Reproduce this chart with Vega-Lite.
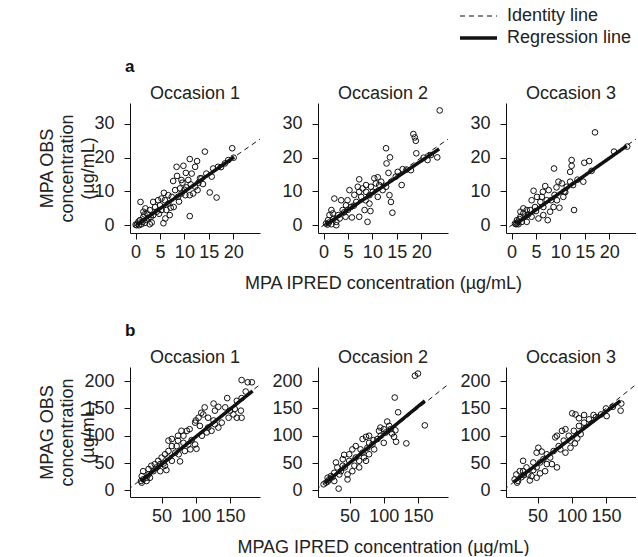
{
"$schema":"https://vega.github.io/schema/vega-lite/v6.json",
"padding":{"left":38,"top":8,"right":0,"bottom":0},
"background":"white",
"config":{
 "font":"Liberation Sans",
 "view":{"stroke":null},
 "axis":{"grid":false,"domainColor":"#111","tickColor":"#111","labelColor":"#222","titleColor":"#222","labelFont":"Liberation Sans","titleFont":"Liberation Sans","labelFontSize":18,"titleFontSize":18,"titleFontWeight":"normal","tickSize":6,"labelFlush":false,"labelOverlap":false,"labelAngle":0,"titleLineHeight":20.5},
 "axisX":{"labelPadding":4},
 "axisY":{"labelPadding":10},
 "title":{"fontSize":18,"fontWeight":"normal","color":"#222","offset":2,"dy":2,"font":"Liberation Sans"},
 "legend":{"orient":"none","legendX":328,"legendY":-95,"labelFontSize":18,"labelFont":"Liberation Sans","labelColor":"#222","symbolType":"stroke","symbolSize":1369,"symbolStrokeColor":"#111","labelOffset":8,"clipHeight":16,"rowPadding":4}
},
"datasets":{
 "pts":[
{"p":"a1","x":1.0,"y":6.9},{"p":"a1","x":14.2,"y":21.8},{"p":"a1","x":19.8,"y":22.8},{"p":"a1","x":11.1,"y":19.6},{"p":"a1","x":12.6,"y":19.0},{"p":"a1","x":8.4,"y":17.3},{"p":"a1","x":9.8,"y":17.6},{"p":"a1","x":10.3,"y":15.5},{"p":"a1","x":11.5,"y":15.3},{"p":"a1","x":12.2,"y":17.3},{"p":"a1","x":7.7,"y":13.1},{"p":"a1","x":8.5,"y":14.6},{"p":"a1","x":9.4,"y":13.4},{"p":"a1","x":10.8,"y":13.4},{"p":"a1","x":13.2,"y":13.9},{"p":"a1","x":15.6,"y":14.4},{"p":"a1","x":15.2,"y":9.7},{"p":"a1","x":16.6,"y":8.2},{"p":"a1","x":11.1,"y":2.7},{"p":"a1","x":5.8,"y":9.6},{"p":"a1","x":5.7,"y":0.6},{"p":"a1","x":6.1,"y":2.0},{"p":"a1","x":7.0,"y":3.0},{"p":"a1","x":7.8,"y":5.4},{"p":"a1","x":7.2,"y":5.2},{"p":"a1","x":6.7,"y":6.4},{"p":"a1","x":3.6,"y":6.9},{"p":"a1","x":4.6,"y":7.4},{"p":"a1","x":5.3,"y":7.9},{"p":"a1","x":7.4,"y":8.4},{"p":"a1","x":8.7,"y":8.4},{"p":"a1","x":9.4,"y":9.4},{"p":"a1","x":10.2,"y":8.9},{"p":"a1","x":11.8,"y":9.4},{"p":"a1","x":11.1,"y":8.9},{"p":"a1","x":12.2,"y":11.4},{"p":"a1","x":12.7,"y":10.4},{"p":"a1","x":10.4,"y":11.2},{"p":"a1","x":11.3,"y":12.1},{"p":"a1","x":9.1,"y":10.9},{"p":"a1","x":8.1,"y":10.4},{"p":"a1","x":6.7,"y":8.9},{"p":"a1","x":6.0,"y":7.4},{"p":"a1","x":5.0,"y":5.9},{"p":"a1","x":4.0,"y":5.4},{"p":"a1","x":2.9,"y":4.5},{"p":"a1","x":2.3,"y":3.5},{"p":"a1","x":1.6,"y":2.5},{"p":"a1","x":0.9,"y":1.5},{"p":"a1","x":0.4,"y":0.5},{"p":"a1","x":1.2,"y":0.3},{"p":"a1","x":1.9,"y":0.7},{"p":"a1","x":2.9,"y":0.3},{"p":"a1","x":2.6,"y":2.0},{"p":"a1","x":3.6,"y":3.0},{"p":"a1","x":4.3,"y":4.0},{"p":"a1","x":1.6,"y":4.0},{"p":"a1","x":2.0,"y":5.0},{"p":"a1","x":5.3,"y":4.5},{"p":"a1","x":6.3,"y":4.5},{"p":"a1","x":19.0,"y":19.3},{"p":"a1","x":18.3,"y":18.3},{"p":"a1","x":16.9,"y":17.3},{"p":"a1","x":15.9,"y":16.8},{"p":"a1","x":14.5,"y":15.3},{"p":"a1","x":13.5,"y":13.9},{"p":"a1","x":0.7,"y":0.0},{"p":"a1","x":0.2,"y":0.0},{"p":"a1","x":0.0,"y":0.2},{"p":"a1","x":1.4,"y":1.0},{"p":"a1","x":2.2,"y":1.6},{"p":"a1","x":3.1,"y":2.4},{"p":"a1","x":4.8,"y":3.4},{"p":"a1","x":8.9,"y":7.0},{"p":"a1","x":12.9,"y":12.6},{"p":"a1","x":17.5,"y":17.2},{"p":"a1","x":20.1,"y":20.0},{"p":"a1","x":3.3,"y":0.8},{"p":"a1","x":0.6,"y":1.1},{"p":"a1","x":1.8,"y":3.2},{"p":"a1","x":10.0,"y":10.5},{"p":"a1","x":13.8,"y":12.2},{"p":"a1","x":9.6,"y":12.6},
{"p":"a2","x":23.8,"y":34.0},{"p":"a2","x":18.4,"y":27.0},{"p":"a2","x":18.7,"y":26.0},{"p":"a2","x":18.9,"y":25.0},{"p":"a2","x":19.0,"y":21.3},{"p":"a2","x":12.8,"y":22.8},{"p":"a2","x":12.9,"y":18.3},{"p":"a2","x":13.6,"y":20.1},{"p":"a2","x":13.3,"y":15.5},{"p":"a2","x":16.0,"y":11.9},{"p":"a2","x":15.2,"y":15.8},{"p":"a2","x":16.2,"y":16.6},{"p":"a2","x":17.9,"y":16.3},{"p":"a2","x":21.3,"y":19.3},{"p":"a2","x":23.3,"y":20.1},{"p":"a2","x":22.0,"y":20.8},{"p":"a2","x":14.1,"y":3.7},{"p":"a2","x":13.5,"y":8.9},{"p":"a2","x":13.8,"y":6.9},{"p":"a2","x":9.0,"y":1.0},{"p":"a2","x":9.6,"y":4.2},{"p":"a2","x":7.3,"y":13.6},{"p":"a2","x":5.3,"y":10.4},{"p":"a2","x":2.2,"y":7.9},{"p":"a2","x":3.6,"y":7.4},{"p":"a2","x":4.9,"y":7.4},{"p":"a2","x":7.0,"y":11.4},{"p":"a2","x":8.0,"y":10.9},{"p":"a2","x":8.7,"y":11.9},{"p":"a2","x":10.4,"y":13.9},{"p":"a2","x":11.1,"y":14.2},{"p":"a2","x":11.8,"y":12.9},{"p":"a2","x":10.7,"y":12.4},{"p":"a2","x":9.7,"y":11.4},{"p":"a2","x":9.4,"y":8.9},{"p":"a2","x":8.6,"y":7.4},{"p":"a2","x":11.1,"y":8.4},{"p":"a2","x":12.1,"y":10.4},{"p":"a2","x":12.8,"y":11.4},{"p":"a2","x":7.7,"y":8.4},{"p":"a2","x":6.7,"y":6.9},{"p":"a2","x":5.6,"y":5.4},{"p":"a2","x":4.6,"y":5.9},{"p":"a2","x":3.9,"y":4.5},{"p":"a2","x":7.3,"y":2.5},{"p":"a2","x":5.8,"y":2.3},{"p":"a2","x":4.5,"y":2.5},{"p":"a2","x":3.3,"y":2.0},{"p":"a2","x":2.6,"y":1.0},{"p":"a2","x":1.9,"y":3.5},{"p":"a2","x":1.6,"y":4.5},{"p":"a2","x":1.2,"y":3.0},{"p":"a2","x":0.9,"y":1.5},{"p":"a2","x":0.5,"y":0.5},{"p":"a2","x":1.6,"y":0.3},{"p":"a2","x":2.6,"y":0.0},{"p":"a2","x":8.4,"y":4.5},{"p":"a2","x":9.4,"y":6.4},{"p":"a2","x":6.3,"y":9.0},{"p":"a2","x":7.3,"y":9.9},{"p":"a2","x":8.7,"y":9.9},{"p":"a2","x":10.1,"y":9.9},{"p":"a2","x":11.4,"y":11.9},{"p":"a2","x":14.8,"y":14.4},{"p":"a2","x":0.8,"y":0.2},{"p":"a2","x":1.1,"y":0.8},{"p":"a2","x":2.0,"y":1.8},{"p":"a2","x":3.0,"y":3.0},{"p":"a2","x":4.2,"y":3.8},{"p":"a2","x":5.0,"y":4.6},{"p":"a2","x":6.2,"y":5.8},{"p":"a2","x":20.5,"y":20.0},{"p":"a2","x":17.0,"y":16.5},
{"p":"a3","x":17.1,"y":27.5},{"p":"a3","x":23.7,"y":23.3},{"p":"a3","x":21.0,"y":21.8},{"p":"a3","x":15.9,"y":19.0},{"p":"a3","x":14.9,"y":18.5},{"p":"a3","x":12.3,"y":19.3},{"p":"a3","x":12.3,"y":17.6},{"p":"a3","x":12.0,"y":15.8},{"p":"a3","x":8.7,"y":16.8},{"p":"a3","x":16.4,"y":16.1},{"p":"a3","x":14.7,"y":12.9},{"p":"a3","x":12.8,"y":4.5},{"p":"a3","x":4.5,"y":10.2},{"p":"a3","x":6.9,"y":11.6},{"p":"a3","x":6.4,"y":9.9},{"p":"a3","x":7.6,"y":10.4},{"p":"a3","x":9.6,"y":12.9},{"p":"a3","x":10.3,"y":12.4},{"p":"a3","x":9.2,"y":11.2},{"p":"a3","x":10.6,"y":8.4},{"p":"a3","x":9.8,"y":5.2},{"p":"a3","x":8.1,"y":7.4},{"p":"a3","x":7.4,"y":1.5},{"p":"a3","x":8.6,"y":5.4},{"p":"a3","x":6.5,"y":5.4},{"p":"a3","x":5.5,"y":2.0},{"p":"a3","x":4.8,"y":5.4},{"p":"a3","x":3.8,"y":4.5},{"p":"a3","x":4.1,"y":7.4},{"p":"a3","x":5.2,"y":8.4},{"p":"a3","x":5.9,"y":6.9},{"p":"a3","x":3.1,"y":4.5},{"p":"a3","x":2.4,"y":3.5},{"p":"a3","x":1.8,"y":2.5},{"p":"a3","x":1.1,"y":1.5},{"p":"a3","x":0.7,"y":0.5},{"p":"a3","x":1.4,"y":0.3},{"p":"a3","x":2.1,"y":1.0},{"p":"a3","x":3.1,"y":1.0},{"p":"a3","x":4.1,"y":2.5},{"p":"a3","x":6.5,"y":3.0},{"p":"a3","x":7.9,"y":4.0},{"p":"a3","x":9.3,"y":7.4},{"p":"a3","x":11.3,"y":11.4},{"p":"a3","x":12.0,"y":12.9},{"p":"a3","x":12.6,"y":11.9},{"p":"a3","x":2.4,"y":5.0},{"p":"a3","x":1.8,"y":4.0},{"p":"a3","x":1.1,"y":0.5},{"p":"a3","x":0.9,"y":0.3},{"p":"a3","x":7.2,"y":7.4},{"p":"a3","x":6.2,"y":8.4},{"p":"a3","x":1.3,"y":1.0},{"p":"a3","x":1.6,"y":1.8},{"p":"a3","x":2.8,"y":2.6},{"p":"a3","x":3.4,"y":3.2},{"p":"a3","x":5.0,"y":4.2},{"p":"a3","x":10.8,"y":10.0},{"p":"a3","x":13.5,"y":13.5},{"p":"a3","x":11.0,"y":9.8},{"p":"a3","x":8.8,"y":9.0},
{"p":"b1","x":167,"y":202},{"p":"b1","x":176,"y":198},{"p":"b1","x":182,"y":198},{"p":"b1","x":173,"y":181},{"p":"b1","x":146,"y":169},{"p":"b1","x":167,"y":169},{"p":"b1","x":160,"y":164},{"p":"b1","x":126,"y":159},{"p":"b1","x":133,"y":153},{"p":"b1","x":143,"y":152},{"p":"b1","x":157,"y":149},{"p":"b1","x":166,"y":146},{"p":"b1","x":167,"y":133},{"p":"b1","x":160,"y":133},{"p":"b1","x":155,"y":139},{"p":"b1","x":111,"y":139},{"p":"b1","x":118,"y":133},{"p":"b1","x":104,"y":133},{"p":"b1","x":99,"y":124},{"p":"b1","x":106,"y":118},{"p":"b1","x":118,"y":115},{"p":"b1","x":128,"y":121},{"p":"b1","x":126,"y":128},{"p":"b1","x":91,"y":112},{"p":"b1","x":87,"y":109},{"p":"b1","x":82,"y":100},{"p":"b1","x":101,"y":76},{"p":"b1","x":89,"y":84},{"p":"b1","x":94,"y":92},{"p":"b1","x":82,"y":87},{"p":"b1","x":74,"y":91},{"p":"b1","x":65,"y":94},{"p":"b1","x":72,"y":81},{"p":"b1","x":65,"y":81},{"p":"b1","x":70,"y":69},{"p":"b1","x":77,"y":53},{"p":"b1","x":60,"y":72},{"p":"b1","x":55,"y":66},{"p":"b1","x":50,"y":60},{"p":"b1","x":53,"y":49},{"p":"b1","x":57,"y":37},{"p":"b1","x":45,"y":54},{"p":"b1","x":40,"y":48},{"p":"b1","x":35,"y":45},{"p":"b1","x":31,"y":39},{"p":"b1","x":23,"y":35},{"p":"b1","x":21,"y":26},{"p":"b1","x":20,"y":17},{"p":"b1","x":23,"y":20},{"p":"b1","x":28,"y":23},{"p":"b1","x":31,"y":29},{"p":"b1","x":38,"y":35},{"p":"b1","x":48,"y":35},{"p":"b1","x":55,"y":45},{"p":"b1","x":65,"y":54},{"p":"b1","x":75,"y":66},{"p":"b1","x":84,"y":72},{"p":"b1","x":92,"y":75},{"p":"b1","x":99,"y":84},{"p":"b1","x":109,"y":100},{"p":"b1","x":116,"y":106},{"p":"b1","x":123,"y":109},{"p":"b1","x":133,"y":115},{"p":"b1","x":138,"y":124},{"p":"b1","x":148,"y":133},{"p":"b1","x":150,"y":146},{"p":"b1","x":128,"y":146},{"p":"b1","x":113,"y":152},{"p":"b1","x":108,"y":142},{"p":"b1","x":100,"y":128},{"p":"b1","x":79,"y":109},{"p":"b1","x":74,"y":100},{"p":"b1","x":60,"y":91},{"p":"b1","x":60,"y":60},{"p":"b1","x":48,"y":48},{"p":"b1","x":43,"y":42},{"p":"b1","x":21,"y":14},{"p":"b1","x":28,"y":17},{"p":"b1","x":33,"y":23},
{"p":"b2","x":145.5,"y":210},{"p":"b2","x":150,"y":214},{"p":"b2","x":116,"y":170},{"p":"b2","x":121,"y":143},{"p":"b2","x":160,"y":119},{"p":"b2","x":133,"y":86},{"p":"b2","x":118,"y":89},{"p":"b2","x":115,"y":98},{"p":"b2","x":117,"y":110},{"p":"b2","x":108,"y":118},{"p":"b2","x":100,"y":112},{"p":"b2","x":95,"y":115},{"p":"b2","x":105,"y":126},{"p":"b2","x":93,"y":109},{"p":"b2","x":100,"y":87},{"p":"b2","x":78.5,"y":100},{"p":"b2","x":74,"y":98},{"p":"b2","x":69,"y":94},{"p":"b2","x":78.5,"y":87},{"p":"b2","x":86,"y":75},{"p":"b2","x":78.5,"y":66},{"p":"b2","x":74,"y":54},{"p":"b2","x":66,"y":75},{"p":"b2","x":59,"y":81},{"p":"b2","x":54,"y":75},{"p":"b2","x":49.4,"y":66},{"p":"b2","x":42,"y":65},{"p":"b2","x":40,"y":57},{"p":"b2","x":30,"y":51},{"p":"b2","x":32,"y":42},{"p":"b2","x":37.3,"y":35},{"p":"b2","x":47,"y":29},{"p":"b2","x":47,"y":20},{"p":"b2","x":64,"y":42},{"p":"b2","x":57,"y":45},{"p":"b2","x":34,"y":3},{"p":"b2","x":27.6,"y":17},{"p":"b2","x":20.3,"y":20},{"p":"b2","x":15.4,"y":14},{"p":"b2","x":17.9,"y":23},{"p":"b2","x":22.7,"y":26},{"p":"b2","x":27.6,"y":32},{"p":"b2","x":40,"y":45},{"p":"b2","x":49.4,"y":54},{"p":"b2","x":59,"y":60},{"p":"b2","x":69,"y":69},{"p":"b2","x":76,"y":78},{"p":"b2","x":83.4,"y":84},{"p":"b2","x":90.7,"y":94},{"p":"b2","x":95.5,"y":100},{"p":"b2","x":103,"y":106},{"p":"b2","x":110,"y":112},{"p":"b2","x":64,"y":54},{"p":"b2","x":71,"y":60},{"p":"b2","x":54,"y":35},{"p":"b2","x":43,"y":42},{"p":"b2","x":35,"y":29},{"p":"b2","x":25,"y":24},{"p":"b2","x":12,"y":11},{"p":"b2","x":18,"y":16},{"p":"b2","x":85,"y":92},{"p":"b2","x":112,"y":104},
{"p":"b3","x":172.4,"y":159},{"p":"b3","x":171.4,"y":146},{"p":"b3","x":150,"y":150},{"p":"b3","x":151,"y":136},{"p":"b3","x":131.8,"y":138},{"p":"b3","x":118,"y":138},{"p":"b3","x":105.5,"y":139},{"p":"b3","x":100.6,"y":141},{"p":"b3","x":110.5,"y":132},{"p":"b3","x":113,"y":103},{"p":"b3","x":104.6,"y":86},{"p":"b3","x":98,"y":91},{"p":"b3","x":90.7,"y":112},{"p":"b3","x":85.7,"y":109},{"p":"b3","x":78.3,"y":100},{"p":"b3","x":75.8,"y":97},{"p":"b3","x":78.3,"y":42},{"p":"b3","x":70.9,"y":48},{"p":"b3","x":58.5,"y":57},{"p":"b3","x":51.1,"y":78},{"p":"b3","x":48.6,"y":69},{"p":"b3","x":56,"y":71},{"p":"b3","x":38.7,"y":18},{"p":"b3","x":28.8,"y":54},{"p":"b3","x":33.8,"y":42},{"p":"b3","x":23.9,"y":35},{"p":"b3","x":18.9,"y":29},{"p":"b3","x":16.4,"y":20},{"p":"b3","x":21.4,"y":17},{"p":"b3","x":26.3,"y":24},{"p":"b3","x":36.2,"y":29},{"p":"b3","x":43.7,"y":37},{"p":"b3","x":48.6,"y":42},{"p":"b3","x":61,"y":35},{"p":"b3","x":63.5,"y":48},{"p":"b3","x":68.4,"y":60},{"p":"b3","x":73.4,"y":72},{"p":"b3","x":80.8,"y":81},{"p":"b3","x":88.2,"y":91},{"p":"b3","x":95.6,"y":100},{"p":"b3","x":103,"y":109},{"p":"b3","x":110.5,"y":118},{"p":"b3","x":118,"y":124},{"p":"b3","x":125.3,"y":130},{"p":"b3","x":135.2,"y":134},{"p":"b3","x":142.7,"y":139},{"p":"b3","x":90.7,"y":69},{"p":"b3","x":98.1,"y":78},{"p":"b3","x":83.3,"y":75},{"p":"b3","x":63.5,"y":66},{"p":"b3","x":43.7,"y":51},{"p":"b3","x":53.6,"y":51},{"p":"b3","x":28.8,"y":35},{"p":"b3","x":41.2,"y":26},{"p":"b3","x":53.6,"y":31},{"p":"b3","x":48.6,"y":23},{"p":"b3","x":20,"y":14},{"p":"b3","x":30,"y":28},{"p":"b3","x":160,"y":153},{"p":"b3","x":108,"y":95}
 ],
 "ln":[
{"p":"a1","l":"Identity line","x":-5,"y":-5},{"p":"a1","l":"Identity line","x":40,"y":40},{"p":"a1","l":"Regression line","x":0.3,"y":0.2},{"p":"a1","l":"Regression line","x":20.2,"y":20.2},
{"p":"a2","l":"Identity line","x":-5,"y":-5},{"p":"a2","l":"Identity line","x":40,"y":40},{"p":"a2","l":"Regression line","x":0.4,"y":0.1},{"p":"a2","l":"Regression line","x":23.7,"y":22.6},
{"p":"a3","l":"Identity line","x":-5,"y":-5},{"p":"a3","l":"Identity line","x":40,"y":40},{"p":"a3","l":"Regression line","x":1.0,"y":0.5},{"p":"a3","l":"Regression line","x":23.6,"y":23.5},
{"p":"b1","l":"Identity line","x":-20,"y":-20},{"p":"b1","l":"Identity line","x":240,"y":240},{"p":"b1","l":"Regression line","x":20,"y":17},{"p":"b1","l":"Regression line","x":183,"y":182},
{"p":"b2","l":"Identity line","x":-20,"y":-20},{"p":"b2","l":"Identity line","x":240,"y":240},{"p":"b2","l":"Regression line","x":14,"y":13},{"p":"b2","l":"Regression line","x":160,"y":164},
{"p":"b3","l":"Identity line","x":-20,"y":-20},{"p":"b3","l":"Identity line","x":240,"y":240},{"p":"b3","l":"Regression line","x":15,"y":15},{"p":"b3","l":"Regression line","x":171,"y":164}
 ]
},
"vconcat":[
 {"title":{"text":"a","anchor":"start","frame":"group","dx":-5,"dy":0,"fontWeight":"bold","fontSize":17,"offset":9,"color":"#111"},
  "bounds":"flush","spacing":58,
  "hconcat":[
   {"width":130,"height":130,"title":"Occasion 1",
    "encoding":{"x":{"field":"x","type":"quantitative","scale":{"domain":[-1.15,25.5],"nice":false,"zero":false},"axis":{"values":[0,5,10,15,20],"title":null}},
                "y":{"field":"y","type":"quantitative","scale":{"domain":[-2.3,36.2],"nice":false,"zero":false},"axis":{"values":[0,10,20,30],"title":["MPA OBS","concentration","(µg/mL)"],"titleX":-73.6,"titleY":65}}},
    "layer":[
     {"data":{"name":"pts"},"transform":[{"filter":"datum.p=='a1'"}],"mark":{"type":"point","shape":"circle","filled":false,"size":32,"strokeWidth":1,"color":"#111","opacity":1,"clip":true}},
     {"data":{"name":"ln"},"transform":[{"filter":"datum.p=='a1'"}],"mark":{"type":"line","color":"#111","clip":true},
      "encoding":{"strokeDash":{"field":"l","type":"nominal","scale":{"domain":["Identity line","Regression line"],"range":[[5,4],[1,0]]},"legend":{"title":null}},
                  "strokeWidth":{"field":"l","type":"nominal","scale":{"domain":["Identity line","Regression line"],"range":[1,3.5]},"legend":{"title":null}}}}
    ]},
   {"width":130,"height":130,"title":"Occasion 2",
    "encoding":{"x":{"field":"x","type":"quantitative","scale":{"domain":[-1.15,25.5],"nice":false,"zero":false},"axis":{"values":[0,5,10,15,20],"title":"MPA IPRED concentration (µg/mL)","titleY":41}},
                "y":{"field":"y","type":"quantitative","scale":{"domain":[-2.3,36.2],"nice":false,"zero":false},"axis":{"values":[0,10,20,30],"title":null}}},
    "layer":[
     {"data":{"name":"pts"},"transform":[{"filter":"datum.p=='a2'"}],"mark":{"type":"point","shape":"circle","filled":false,"size":32,"strokeWidth":1,"color":"#111","opacity":1,"clip":true}},
     {"data":{"name":"ln"},"transform":[{"filter":"datum.p=='a2'"}],"mark":{"type":"line","color":"#111","clip":true},
      "encoding":{"strokeDash":{"field":"l","type":"nominal","scale":{"domain":["Identity line","Regression line"],"range":[[5,4],[1,0]]},"legend":{"title":null}},
                  "strokeWidth":{"field":"l","type":"nominal","scale":{"domain":["Identity line","Regression line"],"range":[1,3.5]},"legend":{"title":null}}}}
    ]},
   {"width":130,"height":130,"title":"Occasion 3",
    "encoding":{"x":{"field":"x","type":"quantitative","scale":{"domain":[-1.15,25.5],"nice":false,"zero":false},"axis":{"values":[0,5,10,15,20],"title":null}},
                "y":{"field":"y","type":"quantitative","scale":{"domain":[-2.3,36.2],"nice":false,"zero":false},"axis":{"values":[0,10,20,30],"title":null}}},
    "layer":[
     {"data":{"name":"pts"},"transform":[{"filter":"datum.p=='a3'"}],"mark":{"type":"point","shape":"circle","filled":false,"size":32,"strokeWidth":1,"color":"#111","opacity":1,"clip":true}},
     {"data":{"name":"ln"},"transform":[{"filter":"datum.p=='a3'"}],"mark":{"type":"line","color":"#111","clip":true},
      "encoding":{"strokeDash":{"field":"l","type":"nominal","scale":{"domain":["Identity line","Regression line"],"range":[[5,4],[1,0]]},"legend":{"title":null}},
                  "strokeWidth":{"field":"l","type":"nominal","scale":{"domain":["Identity line","Regression line"],"range":[1,3.5]},"legend":{"title":null}}}}
    ]}
  ]},
 {"title":{"text":"b","anchor":"start","frame":"group","dx":-5,"dy":0,"fontWeight":"bold","fontSize":17,"offset":9,"color":"#111"},
  "bounds":"flush","spacing":58,
  "hconcat":[
   {"width":130,"height":130,"title":"Occasion 1",
    "encoding":{"x":{"field":"x","type":"quantitative","scale":{"domain":[3.8,193.9],"nice":false,"zero":false},"axis":{"values":[50,100,150],"title":null}},
                "y":{"field":"y","type":"quantitative","scale":{"domain":[-12.3,226],"nice":false,"zero":false},"axis":{"values":[0,50,100,150,200],"title":["MPAG OBS","concentration","(µg/mL)"],"titleX":-73.6,"titleY":65}}},
    "layer":[
     {"data":{"name":"pts"},"transform":[{"filter":"datum.p=='b1'"}],"mark":{"type":"point","shape":"circle","filled":false,"size":32,"strokeWidth":1,"color":"#111","opacity":1,"clip":true}},
     {"data":{"name":"ln"},"transform":[{"filter":"datum.p=='b1'"}],"mark":{"type":"line","color":"#111","clip":true},
      "encoding":{"strokeDash":{"field":"l","type":"nominal","scale":{"domain":["Identity line","Regression line"],"range":[[5,4],[1,0]]},"legend":{"title":null}},
                  "strokeWidth":{"field":"l","type":"nominal","scale":{"domain":["Identity line","Regression line"],"range":[1,3.5]},"legend":{"title":null}}}}
    ]},
   {"width":130,"height":130,"title":"Occasion 2",
    "encoding":{"x":{"field":"x","type":"quantitative","scale":{"domain":[3.8,193.9],"nice":false,"zero":false},"axis":{"values":[50,100,150],"title":"MPAG IPRED concentration (µg/mL)","titleY":41}},
                "y":{"field":"y","type":"quantitative","scale":{"domain":[-12.3,226],"nice":false,"zero":false},"axis":{"values":[0,50,100,150,200],"title":null}}},
    "layer":[
     {"data":{"name":"pts"},"transform":[{"filter":"datum.p=='b2'"}],"mark":{"type":"point","shape":"circle","filled":false,"size":32,"strokeWidth":1,"color":"#111","opacity":1,"clip":true}},
     {"data":{"name":"ln"},"transform":[{"filter":"datum.p=='b2'"}],"mark":{"type":"line","color":"#111","clip":true},
      "encoding":{"strokeDash":{"field":"l","type":"nominal","scale":{"domain":["Identity line","Regression line"],"range":[[5,4],[1,0]]},"legend":{"title":null}},
                  "strokeWidth":{"field":"l","type":"nominal","scale":{"domain":["Identity line","Regression line"],"range":[1,3.5]},"legend":{"title":null}}}}
    ]},
   {"width":130,"height":130,"title":"Occasion 3",
    "encoding":{"x":{"field":"x","type":"quantitative","scale":{"domain":[3.8,193.9],"nice":false,"zero":false},"axis":{"values":[50,100,150],"title":null}},
                "y":{"field":"y","type":"quantitative","scale":{"domain":[-12.3,226],"nice":false,"zero":false},"axis":{"values":[0,50,100,150,200],"title":null}}},
    "layer":[
     {"data":{"name":"pts"},"transform":[{"filter":"datum.p=='b3'"}],"mark":{"type":"point","shape":"circle","filled":false,"size":32,"strokeWidth":1,"color":"#111","opacity":1,"clip":true}},
     {"data":{"name":"ln"},"transform":[{"filter":"datum.p=='b3'"}],"mark":{"type":"line","color":"#111","clip":true},
      "encoding":{"strokeDash":{"field":"l","type":"nominal","scale":{"domain":["Identity line","Regression line"],"range":[[5,4],[1,0]]},"legend":{"title":null}},
                  "strokeWidth":{"field":"l","type":"nominal","scale":{"domain":["Identity line","Regression line"],"range":[1,3.5]},"legend":{"title":null}}}}
    ]}
  ]}
],
"spacing":264,
"bounds":"flush"
}
